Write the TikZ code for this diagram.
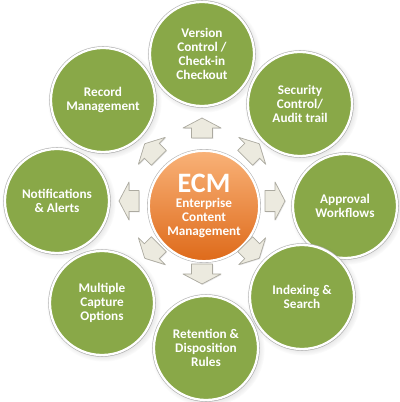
\documentclass[tikz,border=0pt]{standalone}
\usepackage{fontspec}
\setmainfont{Carlito}
\usetikzlibrary{shadows}

\definecolor{ecmgreen}{RGB}{137,168,72}
\definecolor{ecmtop}{RGB}{249,178,120}
\definecolor{ecmbottom}{RGB}{222,106,26}
\definecolor{arrowfill}{RGB}{236,234,223}
\definecolor{arrowline}{RGB}{172,170,160}

\tikzset{
  pics/hubarrow/.style={code={
    \draw[fill=arrowfill, draw=arrowline, line width=0.5pt, line join=round,
      drop shadow={shadow xshift=0.6pt, shadow yshift=-0.6pt, opacity=0.2}]
      (-10,-10.5) -- (0,-10.5) -- (0,-19) -- (10,0) -- (0,19) -- (0,10.5) -- (-10,10.5) -- cycle;
  }}
}

\begin{document}
\begin{tikzpicture}[x=0.025cm, y=0.025cm,
  every node/.style={font=\fontsize{9.4}{10}\selectfont\bfseries, text=white, align=center},
  topic/.style={circle, fill=ecmgreen, draw=white, line width=1.6pt, minimum size=2.6cm, inner sep=0pt,
    preaction={draw=black!28, line width=2.5pt},
    circular drop shadow={shadow xshift=1pt, shadow yshift=-1pt, opacity=0.25}}]
  \useasboundingbox (0,0) rectangle (400,402);
  \coordinate (hub) at (202,201);

  \node[circle, top color=ecmtop, bottom color=ecmbottom, draw=white, line width=1.6pt, minimum size=2.7cm,
    preaction={draw=black!28, line width=2.5pt}] (ecm) at (204,196)
    {{\fontsize{20}{21}\selectfont ECM}\\[1pt] Enterprise\\ Content\\ Management};

  \node[topic] (version) at (202,348) {Version\\ Control /\\ Check-in\\ Checkout};
  \node[topic] (security) at (300,298) {Security\\ Control/\\ Audit trail};
  \node[topic] (approval) at (345,196) {Approval\\ Workflows};
  \node[topic] (indexing) at (302,105) {Indexing \&\\ Search};
  \node[topic] (retention) at (206,54) {Retention \&\\ Disposition\\ Rules};
  \node[topic] (capture) at (102,99) {Multiple\\ Capture\\ Options};
  \node[topic] (notify) at (57,201) {Notifications\\ \& Alerts};
  \node[topic] (record) at (103,302) {Record\\ Management};

  \pic[rotate=90] (aup) at ([shift={(90:73)}]hub) {hubarrow};
  \pic[rotate=45] (aupright) at ([shift={(45:71)}]hub) {hubarrow};
  \pic[rotate=0] (aright) at ([shift={(0:73)}]hub) {hubarrow};
  \pic[rotate=-45] (adownright) at ([shift={(-45:71)}]hub) {hubarrow};
  \pic[rotate=-90] (adown) at ([shift={(-90:73)}]hub) {hubarrow};
  \pic[rotate=-135] (adownleft) at ([shift={(-135:71)}]hub) {hubarrow};
  \pic[rotate=180] (aleft) at ([shift={(180:73)}]hub) {hubarrow};
  \pic[rotate=135] (aupleft) at ([shift={(135:71)}]hub) {hubarrow};
\end{tikzpicture}
\end{document}
